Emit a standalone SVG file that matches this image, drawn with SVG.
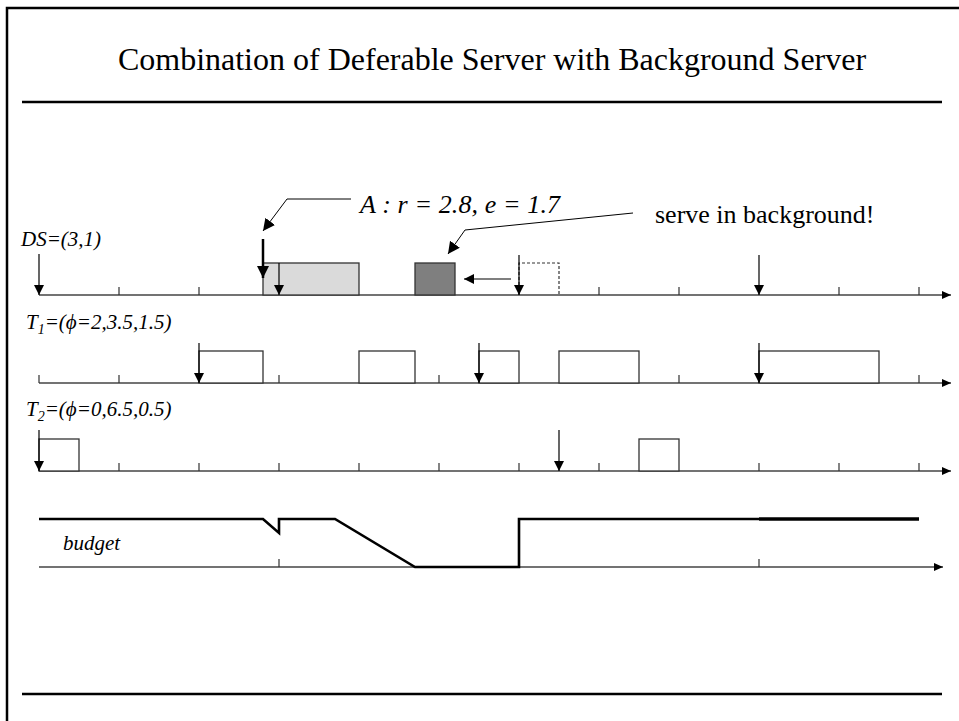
<svg xmlns="http://www.w3.org/2000/svg" width="959" height="721" viewBox="0 0 959 721">
<style>
.frame{stroke:#000;stroke-width:2.5;fill:none}
.rule{stroke:#000;stroke-width:2.5}
.axis{stroke:#444;stroke-width:1.3;fill:none}
.tick{stroke:#333;stroke-width:1.2;fill:none}
.rel{stroke:#000;stroke-width:1.2}
.job{fill:#fff;stroke:#333;stroke-width:1.3}
.lbl{font-family:"Liberation Serif","Times New Roman",serif;font-style:italic;font-size:21px;fill:#000}
.title{font-family:"Liberation Serif","Times New Roman",serif;font-size:32px;fill:#000}
.note{font-family:"Liberation Serif","Times New Roman",serif;font-size:26px;fill:#000}
.budget{stroke:#000;stroke-width:2.6;fill:none;stroke-linejoin:miter}
.callout{stroke:#000;stroke-width:1;fill:none}
</style>
<defs>
<marker id="axh" markerUnits="userSpaceOnUse" markerWidth="10" markerHeight="9" refX="9" refY="4" orient="auto"><path d="M0,0 L9,4 L0,8 z" fill="#000"/></marker>
<marker id="relh" markerUnits="userSpaceOnUse" markerWidth="11" markerHeight="11" refX="10" refY="5" orient="auto"><path d="M0,0 L10,5 L0,10 z" fill="#000"/></marker>
<marker id="bigh" markerUnits="userSpaceOnUse" markerWidth="13" markerHeight="13" refX="12" refY="6" orient="auto"><path d="M0,0 L12,6 L0,12 z" fill="#000"/></marker>
</defs>

<g id="frame">
<path class="frame" d="M7,721 V8 H959"/>
<line class="rule" x1="22" y1="102" x2="942" y2="102"/>
<line class="rule" x1="22" y1="694" x2="942" y2="694"/>
</g>

<g id="title">
<text class="title" x="492" y="70" text-anchor="middle">Combination of Deferable Server with Background Server</text>
</g>

<g id="ds-row">
<text class="lbl" x="21" y="246">DS=(3,1)</text>
<line class="axis" x1="39" y1="295" x2="951" y2="295" marker-end="url(#axh)"/>
<path class="tick" d="M119,295v-8 M199,295v-8 M599,295v-8 M679,295v-8 M839,295v-8 M919,295v-8"/>
<rect x="263" y="263" width="96" height="32" fill="#dadada" stroke="#333" stroke-width="1.3"/>
<rect x="415" y="263" width="40" height="32" fill="#7f7f7f" stroke="#333" stroke-width="1.3"/>
<path d="M519,295 V263 H559 V295" fill="none" stroke="#333" stroke-width="1.2" stroke-dasharray="3,2"/>
<line class="rel" x1="39" y1="254" x2="39" y2="295" marker-end="url(#relh)"/>
<line x1="263" y1="239" x2="263" y2="278" stroke="#000" stroke-width="2.5" marker-end="url(#bigh)"/>
<line class="rel" x1="279" y1="263" x2="279" y2="295" marker-end="url(#relh)"/>
<line class="rel" x1="519" y1="255" x2="519" y2="295" marker-end="url(#relh)"/>
<line class="rel" x1="759" y1="255" x2="759" y2="295" marker-end="url(#relh)"/>
<line class="rel" x1="511" y1="279" x2="464" y2="279" marker-end="url(#relh)"/>
</g>

<g id="t1-row">
<text class="lbl" x="26" y="329">T<tspan font-size="14" dy="5">1</tspan><tspan dy="-5">=(ϕ=2,3.5,1.5)</tspan></text>
<line class="axis" x1="39" y1="383" x2="951" y2="383" marker-end="url(#axh)"/>
<path class="tick" d="M39,383v-8 M119,383v-8 M279,383v-8 M439,383v-8 M679,383v-8 M919,383v-8"/>
<rect class="job" x="199" y="351" width="64" height="32"/>
<rect class="job" x="359" y="351" width="56" height="32"/>
<rect class="job" x="479" y="351" width="40" height="32"/>
<rect class="job" x="559" y="351" width="80" height="32"/>
<rect class="job" x="759" y="351" width="120" height="32"/>
<line class="rel" x1="199" y1="343" x2="199" y2="383" marker-end="url(#relh)"/>
<line class="rel" x1="479" y1="343" x2="479" y2="383" marker-end="url(#relh)"/>
<line class="rel" x1="759" y1="343" x2="759" y2="383" marker-end="url(#relh)"/>
</g>

<g id="t2-row">
<text class="lbl" x="26" y="416">T<tspan font-size="14" dy="5">2</tspan><tspan dy="-5">=(ϕ=0,6.5,0.5)</tspan></text>
<line class="axis" x1="39" y1="471" x2="951" y2="471" marker-end="url(#axh)"/>
<path class="tick" d="M119,471v-8 M199,471v-8 M279,471v-8 M359,471v-8 M439,471v-8 M519,471v-8 M599,471v-8 M759,471v-8 M839,471v-8 M919,471v-8"/>
<rect class="job" x="39" y="439" width="40" height="32"/>
<rect class="job" x="639" y="439" width="40" height="32"/>
<line class="rel" x1="39" y1="430" x2="39" y2="471" marker-end="url(#relh)"/>
<line class="rel" x1="559" y1="430" x2="559" y2="471" marker-end="url(#relh)"/>
</g>

<g id="budget-row">
<text class="lbl" x="63" y="550">budget</text>
<line class="axis" x1="39" y1="567" x2="943" y2="567" marker-end="url(#axh)"/>
<path class="tick" d="M279,567v-8 M759,567v-8"/>
<path class="budget" d="M39,519 L263,519 L279,533 L279,519 L335,519 L415,567 L519,567 L519,519 L759,519"/>
<line x1="759" y1="519" x2="919" y2="519" stroke="#000" stroke-width="3.6"/>
</g>

<g id="callout-a">
<text class="note" x="360" y="213" font-style="italic" font-size="24" textLength="200">A : r = 2.8, e = 1.7</text>
</g>
<g id="callout-bg">
<text class="note" x="655" y="223">serve in background!</text>
</g>

<g id="connectors">
<polyline class="callout" points="351,199 287,199 263,231" marker-end="url(#bigh)"/>
<polyline class="callout" points="633,213 465,230 448,254" marker-end="url(#bigh)"/>
</g>
</svg>
